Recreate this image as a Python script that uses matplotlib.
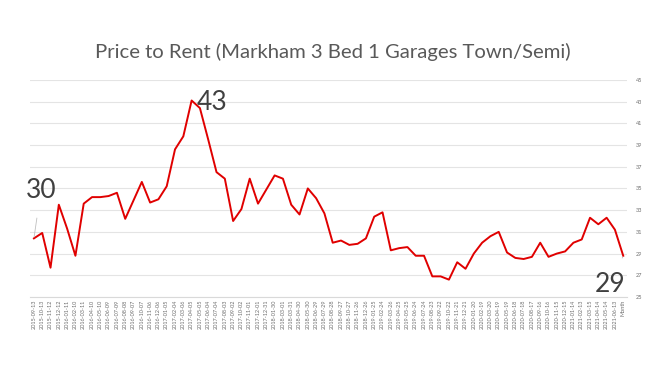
import matplotlib
matplotlib.use('Agg')
import matplotlib.pyplot as plt

#================================================================================
#   DATA
#================================================================================
month_labels = [
    '2015-09-13', '2015-10-13', '2015-11-12', '2015-12-12', '2016-01-11', '2016-02-10',
    '2016-03-11', '2016-04-10', '2016-05-10', '2016-06-09', '2016-07-09', '2016-08-08',
    '2016-09-07', '2016-10-07', '2016-11-06', '2016-12-06', '2017-01-05', '2017-02-04',
    '2017-03-06', '2017-04-05', '2017-05-05', '2017-06-04', '2017-07-04', '2017-08-03',
    '2017-09-02', '2017-10-02', '2017-11-01', '2017-12-01', '2017-12-31', '2018-01-30',
    '2018-03-01', '2018-03-31', '2018-04-30', '2018-05-30', '2018-06-29', '2018-07-29',
    '2018-08-28', '2018-09-27', '2018-10-27', '2018-11-26', '2018-12-26', '2019-01-25',
    '2019-02-24', '2019-03-26', '2019-04-25', '2019-05-25', '2019-06-24', '2019-07-24',
    '2019-08-23', '2019-09-22', '2019-10-22', '2019-11-21', '2019-12-21', '2020-01-20',
    '2020-02-19', '2020-03-20', '2020-04-19', '2020-05-19', '2020-06-18', '2020-07-18',
    '2020-08-17', '2020-09-16', '2020-10-16', '2020-11-15', '2020-12-15', '2021-01-14',
    '2021-02-13', '2021-03-15', '2021-04-14', '2021-05-14', '2021-06-13', 'Month',
]

price_to_rent = [
    30.4, 30.9, 27.7, 33.5, 31.3, 28.8, 33.6, 34.2, 34.2, 34.3, 34.6, 32.2,
    33.9, 35.6, 33.7, 34.0, 35.2, 38.6, 39.8, 43.1, 42.4, 39.5, 36.5, 35.9,
    32.0, 33.1, 35.9, 33.6, 34.9, 36.2, 35.9, 33.5, 32.6, 35.0, 34.1, 32.7,
    30.0, 30.2, 29.8, 29.9, 30.4, 32.4, 32.8, 29.3, 29.5, 29.6, 28.8, 28.8,
    26.9, 26.9, 26.6, 28.2, 27.6, 29.0, 30.0, 30.6, 31.0, 29.1, 28.6, 28.5,
    28.7, 30.0, 28.7, 29.0, 29.2, 30.0, 30.3, 32.3, 31.7, 32.3, 31.2, 28.8,
]

y_ticks = list(range(25, 46, 2))

# points that get a big data label: (index, offset in pixels, alignment, leader line)
labelled_points = [
    (0, (7, 48), 'center', True),
    (19, (5, -2), 'left', False),
    (71, (-13, -29), 'center', True),
]

#================================================================================
#   MAIN
#================================================================================
def main():
    plt.rcParams['font.family'] = ['Lato', 'DejaVu Sans']

    fig = plt.figure(figsize=(6.66, 3.75), dpi=100)
    ax = fig.add_axes([0.0447, 0.208, 0.8973, 0.579])

    x = list(range(len(price_to_rent)))
    ax.plot(x, price_to_rent, color='#e00000', linewidth=1.4, zorder=3)

    ax.set_xlim(-0.5, len(x) - 0.5)
    ax.set_ylim(25, 45)

    ax.set_xticks(x)
    ax.set_xticklabels(month_labels, rotation=90, fontsize=4, color='#6d6d6d')
    ax.set_yticks(y_ticks)
    ax.yaxis.tick_right()
    ax.tick_params(axis='y', labelsize=4, colors='#6d6d6d', length=0, pad=6)
    ax.tick_params(axis='x', length=0, pad=2)

    ax.grid(axis='y', color='#e4e4e4', linewidth=0.8)
    ax.set_axisbelow(True)
    for side in ['top', 'left', 'right']:
        ax.spines[side].set_visible(False)
    ax.spines['bottom'].set_color('#d9d9d9')
    ax.spines['bottom'].set_linewidth(0.8)

    for idx, offset, align, leader in labelled_points:
        arrow = None
        if leader:
            arrow = dict(arrowstyle='-', color='#bfbfbf', linewidth=0.6, shrinkA=9, shrinkB=1)
        ax.annotate('%d' % round(price_to_rent[idx]), xy=(idx, price_to_rent[idx]),
                    xytext=offset, textcoords='offset pixels', ha=align, va='center',
                    fontsize=19, color='#404040', arrowprops=arrow, zorder=4)

    fig.text(0.5, 0.845, 'Price to Rent (Markham 3 Bed 1 Garages Town/Semi)',
             ha='center', va='baseline', fontsize=14.6, color='#595959')

    fig.savefig('out.png', dpi=100, facecolor='white')

if __name__ == '__main__':
    main()
